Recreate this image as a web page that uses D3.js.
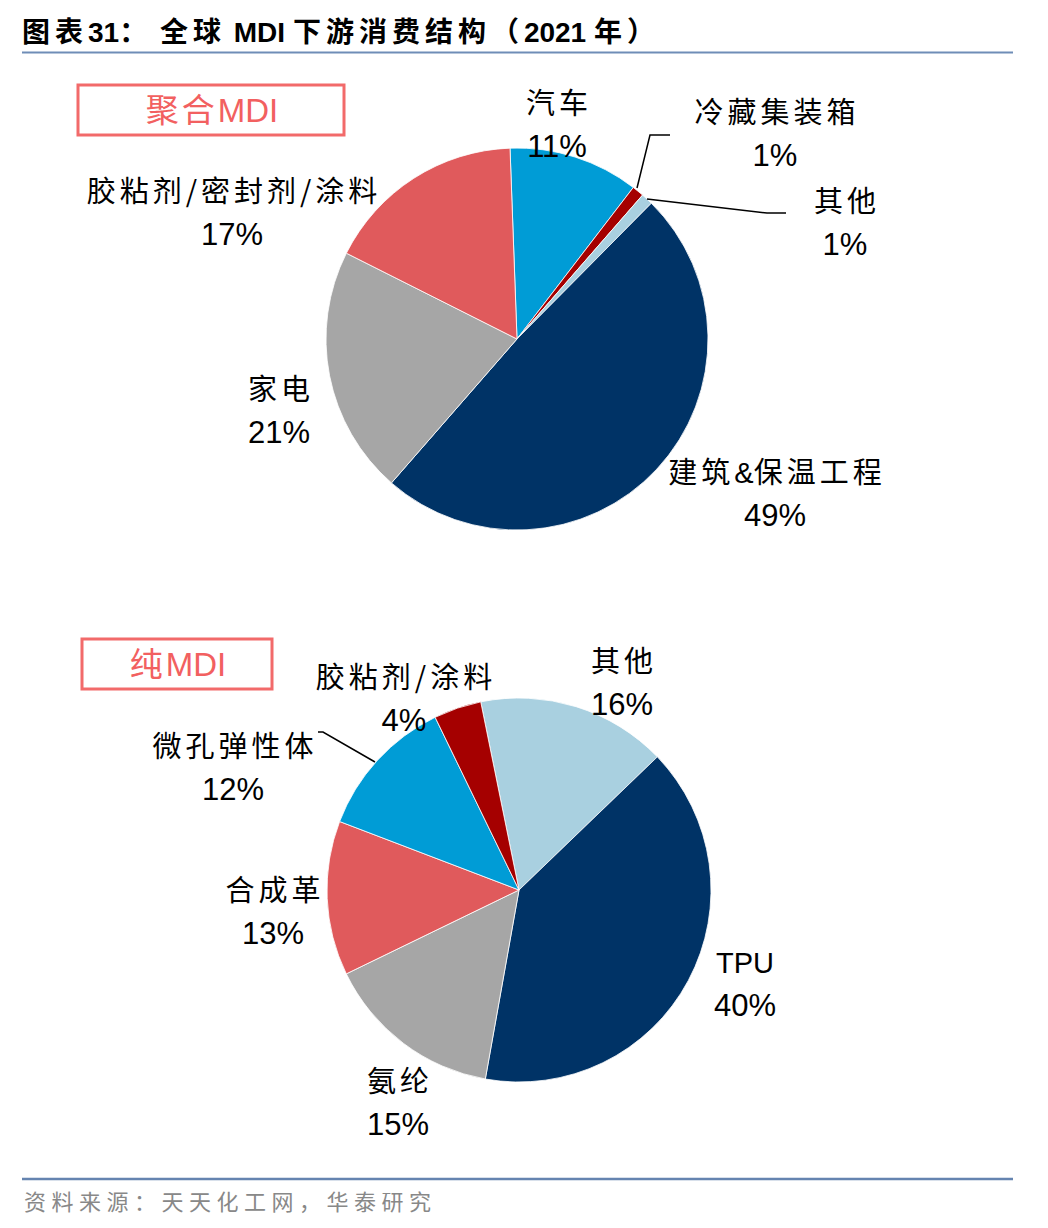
<!DOCTYPE html>
<html>
<head>
<meta charset="utf-8">
<script src="https://cdn.jsdelivr.net/npm/d3@7"></script>
<style>
  body { margin: 0; background: #fff; }
  svg { display: block; }
</style>
</head>
<body>
<div id="chart"></div>
<script>
// 聚合MDI
const polyNames  = ['汽车', '冷藏集装箱', '其他', '建筑&保温工程', '家电', '胶粘剂/密封剂/涂料'];
const polyValues = [11, 1, 1, 49, 21, 17];
// 纯MDI
const pureNames  = ['其他', 'TPU', '氨纶', '合成革', '微孔弹性体', '胶粘剂/涂料'];
const pureValues = [16, 40, 15, 13, 12, 4];

const C = {
  sky: '#009CD6', dred: '#A50000', lblue: '#A9D0E0', navy: '#003366',
  gray: '#A6A6A6', salmon: '#E05A5C'
};
const polyColors = [C.sky, C.dred, C.lblue, C.navy, C.gray, C.salmon];
const pureColors = [C.lblue, C.navy, C.gray, C.salmon, C.sky, C.dred];

// label anchor points (label line centre, first line)
const polyLabelPos = {
  '汽车': [557, 103], '冷藏集装箱': [775, 112], '其他': [845, 201],
  '建筑&保温工程': [775, 472], '家电': [279, 389], '胶粘剂/密封剂/涂料': [232, 191]
};
const pureLabelPos = {
  '其他': [622, 661], 'TPU': [745, 962], '氨纶': [398, 1081],
  '合成革': [273, 890], '微孔弹性体': [233, 746], '胶粘剂/涂料': [404, 677]
};

const W = 1048, H = 1228;
const deg = a => a * Math.PI / 180;
const svg = d3.select('#chart').append('svg').attr('width', W).attr('height', H);

const CJK = '"Noto Sans CJK SC", sans-serif';
const LAT = '"Liberation Sans", Arial, sans-serif';
const isCJK = ch => /[\u3000-\u303f\u4e00-\u9fff\uff00-\uffef]/.test(ch);

// letter-spacing only on CJK runs, Latin stays tight ('/' counts as CJK-spaced)
function spaced(t, str, ls) {
  const runs = [];
  for (const ch of str) {
    const k = isCJK(ch) || ch === '/';
    if (runs.length && runs[runs.length - 1].k === k) runs[runs.length - 1].s += ch;
    else runs.push({ k, s: ch });
  }
  runs.forEach(r => {
    t.append('tspan')
      .style('font-family', r.k ? CJK : LAT)
      .style('letter-spacing', r.k ? ls + 'px' : '0px')
      .text(r.s);
  });
  return t;
}

// title
spaced(svg.append('text').attr('x', 22).attr('y', 42)
  .style('font-size', '28px').style('font-weight', 700).attr('fill', '#000'),
  '图表31：  全球 MDI 下游消费结构（2021 年）', 5);
svg.append('line').attr('x1', 22).attr('x2', 1013).attr('y1', 52.5).attr('y2', 52.5)
  .attr('stroke', '#6F8DB7').attr('stroke-width', 2);

// footer
svg.append('line').attr('x1', 22).attr('x2', 1013).attr('y1', 1179).attr('y2', 1179)
  .attr('stroke', '#6584B0').attr('stroke-width', 2.5);
svg.append('text').attr('x', 24).attr('y', 1210)
  .style('font-family', CJK).style('font-size', '22px').style('letter-spacing', '5.5px')
  .attr('fill', '#888')
  .text('资料来源：天天化工网，华泰研究');

function drawPie(names, values, colors, cx, cy, r, start, labelPos) {
  const pie = d3.pie().sort(null).value(d => d)
    .startAngle(deg(start)).endAngle(deg(start) + Math.PI * 2);
  const arc = d3.arc().innerRadius(0).outerRadius(r);
  const g = svg.append('g').attr('transform', `translate(${cx},${cy})`);
  g.selectAll('path').data(pie(values)).join('path')
    .attr('d', arc)
    .attr('fill', (d, i) => colors[i])
    .attr('stroke', '#fff').attr('stroke-width', 0.8);

  names.forEach((n, i) => {
    const [x, y] = labelPos[n];
    const cjk = [...n].some(isCJK);
    const ls = cjk ? 4 : 0;
    spaced(svg.append('text').attr('x', x + ls / 2).attr('y', y + 11).attr('text-anchor', 'middle')
      .style('font-size', '29px').attr('fill', '#000'), n, ls);
    svg.append('text').attr('x', x).attr('y', y + 54).attr('text-anchor', 'middle')
      .style('font-family', LAT).style('font-size', '31px').attr('fill', '#000')
      .text(values[i] + '%');
  });
}

drawPie(polyNames, polyValues, polyColors, 517, 339, 191, -2.1, polyLabelPos);
drawPie(pureNames, pureValues, pureColors, 519, 890, 192, -11.5, pureLabelPos);

// leader lines
const leader = pts => svg.append('polyline')
  .attr('points', pts.map(p => p.join(',')).join(' '))
  .attr('fill', 'none').attr('stroke', '#000').attr('stroke-width', 1.5);
leader([[670, 135], [650, 135], [637, 188]]);
leader([[786, 213], [767, 213], [647, 199]]);
leader([[318, 732], [323, 732], [375, 762]]);

// legend boxes
function tag(x, y, w, h, label) {
  svg.append('rect').attr('x', x).attr('y', y).attr('width', w).attr('height', h)
    .attr('fill', '#fff').attr('stroke', '#F26A6A').attr('stroke-width', 3);
  spaced(svg.append('text').attr('x', x + w / 2 + 1).attr('y', y + h / 2 + 12).attr('text-anchor', 'middle')
    .style('font-size', '33px').attr('fill', '#F26060'), label, 3);
}
tag(78, 85, 266, 50, '聚合MDI');
tag(82, 639, 190, 50, '纯MDI');
</script>
</body>
</html>
